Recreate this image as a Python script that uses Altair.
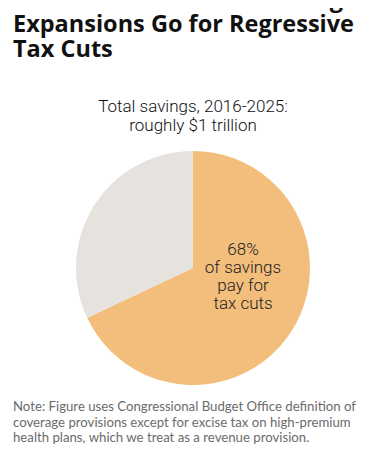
import altair as alt
import pandas as pd

categories = ["Pays for tax cuts", "Other"]
shares = [68, 32]
order_vals = [1, 2]
colors = ["#F3BE7B", "#E6E2DE"]

title_lines = ["Affordable Care Act Coverage", "Expansions Go for Regressive", "Tax Cuts"]
subtitle_lines = ["Total savings, 2016-2025:", "roughly $1 trillion"]
label_lines = ["68%", "of savings", "pay for", "tax cuts"]
note_lines = [
    "Note: Figure uses Congressional Budget Office definition of",
    "coverage provisions except for excise tax on high-premium",
    "health plans, which we treat as a revenue provision.",
]

df = pd.DataFrame({"cat": categories, "value": shares, "ord": order_vals})
one = pd.DataFrame({"k": [0]})

pie = alt.Chart(df).mark_arc(radius=117).encode(
    theta=alt.Theta("value:Q", stack=True),
    color=alt.Color("cat:N", scale=alt.Scale(domain=categories, range=colors), legend=None),
    order=alt.Order("ord:Q"),
    x=alt.value(185),
    y=alt.value(260),
)

title = alt.Chart(one).mark_text(
    text=title_lines, align="left", baseline="alphabetic", font="Open Sans",
    fontWeight="bold", fontSize=23.5, lineHeight=25, color="#111111",
).encode(x=alt.value(5), y=alt.value(-1))

subtitle = alt.Chart(one).mark_text(
    text=subtitle_lines, align="center", baseline="alphabetic", font="Roboto",
    fontWeight=300, fontSize=17, lineHeight=19, color="#111111",
).encode(x=alt.value(185), y=alt.value(104))

label = alt.Chart(one).mark_text(
    text=label_lines, align="center", baseline="alphabetic", font="Roboto",
    fontWeight=300, fontSize=17, lineHeight=18, color="#222222",
).encode(x=alt.value(235), y=alt.value(247))

note = alt.Chart(one).mark_text(
    text=note_lines, align="left", baseline="alphabetic", font="Lato",
    fontSize=13.2, lineHeight=15.7, color="#6b6b6b",
).encode(x=alt.value(5), y=alt.value(403))

chart = alt.layer(pie, title, subtitle, label, note).properties(
    width=370, height=442, padding=0, autosize=alt.AutoSizeParams(type="none"),
).configure_view(stroke=None)

chart.save("out.html", embed_options={"renderer": "svg", "actions": False})
